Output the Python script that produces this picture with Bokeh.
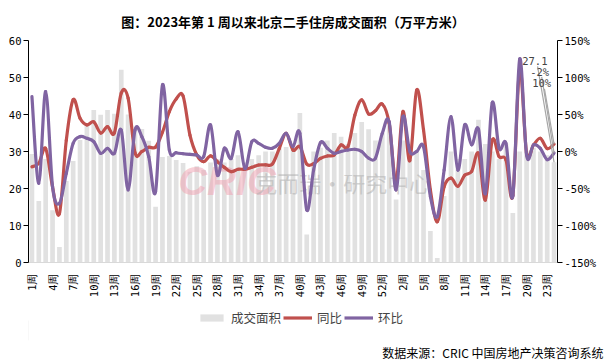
import numpy as np
from bokeh.plotting import figure
from bokeh.layouts import column
from bokeh.models import Range1d, LinearAxis, FixedTicker, Label, Legend, LegendItem, Title
from bokeh.core.properties import value
from bokeh.embed import file_html
from bokeh.resources import INLINE

# ---- data (2023 W1 .. W53, 2024 W1 .. W24) ----
week_numbers = list(range(1, 54)) + list(range(1, 25))
week_labels = [f"{w}周" for w in week_numbers]

area = [29.3, 16.6, 28.0, 14.1, 4.2, 22.0, 27.4, 33.1, 37.0, 41.2,
        39.9, 41.2, 40.2, 52.1, 40.0, 36.1, 36.1, 32.9, 15.1, 28.5,
        28.8, 27.7, 26.9, 24.5, 26.0, 25.0, 27.0, 28.0, 27.0, 28.0,
        29.0, 27.0, 28.0, 29.0, 30.0, 30.0, 31.0, 31.2, 31.0, 40.4,
        7.6, 30.0, 31.0, 33.0, 35.0, 34.0, 32.0, 35.0, 38.0, 36.0,
        33.0, 35.0, 37.0, 17.0, 33.0, 28.0, 30.0, 25.0, 8.5, 1.2,
        18.0, 30.0, 28.0, 28.0, 30.0, 38.6, 32.0, 30.0, 28.0, 32.0,
        13.4, 30.0, 30.0, 31.0, 30.0, 29.0, 27.1]

yoy = [-20.6, -16.0, 4.0, -48.0, -84.0, 15.0, 70.0, 45.0, 36.0, 40.0,
       25.0, 33.6, 25.0, 79.0, 72.0, -1.6, 0.0, 5.7, 6.0, 26.0,
       54.0, 71.0, 75.0, 22.0, -4.7, -13.8, -6.0, -13.8, -21.4, -27.3,
       -24.0, -24.0, -21.4, -18.3, -18.0, -17.0, 4.0, 24.6, 2.0, 6.5,
       -17.0, -16.5, -9.3, -6.0, -4.7, 8.8, 6.5, 49.0, 69.7, 50.7,
       55.0, 64.0, 38.0, -40.0, 54.0, -12.5, 83.0, 29.0, -52.0, -95.0,
       -47.6, -36.0, -47.0, -32.0, -27.0, -2.5, -65.6, 15.5, -7.0, -11.5,
       -59.0, 112.0, -2.5, 8.8, 17.8, 4.0, 10.0]

wow = [74.2, -43.0, 81.0, -47.6, -70.0, -29.5, 11.1, 20.1, 17.8, 13.3,
       -2.5, 4.3, -2.5, 29.0, -52.0, 29.0, 20.0, -7.0, -54.0, 90.0,
       2.0, -1.6, -3.0, -4.0, -4.7, -7.0, 36.0, -32.0, 4.3, -9.3,
       26.8, -23.0, 13.3, 11.0, 5.6, 4.3, 11.0, 24.6, 6.5, 24.6,
       -79.0, -25.0, 12.0, 4.3, -2.5, 0.0, 2.0, 3.0, 0.0, -9.0,
       -9.0, 24.6, 40.0, -52.0, 47.0, 0.0, 0.0, 6.5, -61.0, -88.0,
       -25.0, 47.0, -25.0, 36.0, 9.0, 30.0, -57.0, 66.0, 4.3, 11.0,
       -60.0, 125.0, -4.7, 9.0, 4.3, -11.0, -2.0]

left_ticks = [0, 10, 20, 30, 40, 50, 60]
right_ticks = [-150, -100, -50, 0, 50, 100, 150]

series_names = ["成交面积", "同比", "环比"]
title_text = "图：2023年第 1 周以来北京二手住房成交面积（万平方米）"
source_text = "数据来源：CRIC 中国房地产决策咨询系统"
bar_color = "#e1e1e1"
red = "#c0504d"
purple = "#8064a2"

n = len(area)
xs = list(range(n))

p = figure(frame_width=529, frame_height=222,
           min_border_left=28, min_border_top=40, min_border_bottom=38,
           min_border_right=49,
           x_range=Range1d(-0.5, n - 0.5), y_range=Range1d(0, 60),
           output_backend="svg", toolbar_location=None)
p.extra_y_ranges = {"pct": Range1d(-150, 150)}
p.grid.visible = False
p.outline_line_color = None
p.background_fill_color = "white"
p.border_fill_color = "white"

num_font = "DejaVu Sans Mono"

# title
p.title.text = title_text
p.title.align = "center"
p.title.offset = 13
p.title.standoff = 19
p.title.text_font = "Noto Sans CJK SC"
p.title.text_font_style = "bold"
p.title.text_font_size = "13px"
p.title.text_color = "black"

# left axis
ya = p.yaxis[0]
ya.ticker = FixedTicker(ticks=left_ticks)
ya.major_label_text_font = num_font
ya.major_label_text_font_size = "10.5px"
ya.major_label_text_color = "black"
ya.axis_line_color = "black"
ya.major_tick_line_color = "black"
ya.major_tick_out = 5
ya.major_tick_in = 0
ya.minor_tick_line_color = None
ya.major_label_standoff = 2

# right axis
ra = LinearAxis(y_range_name="pct", ticker=FixedTicker(ticks=right_ticks),
                major_label_overrides={t: f"{t}%" for t in right_ticks})
ra.major_label_text_font = num_font
ra.major_label_text_font_size = "10.5px"
ra.major_label_text_color = "black"
ra.axis_line_color = "black"
ra.major_tick_line_color = "black"
ra.major_tick_out = 5
ra.major_tick_in = 0
ra.minor_tick_line_color = None
ra.major_label_standoff = 2
p.add_layout(ra, "right")

# x axis
xa = p.xaxis[0]
tick_pos = list(range(0, n, 3))
xa.ticker = FixedTicker(ticks=tick_pos)
xa.major_label_overrides = {i: week_labels[i] for i in tick_pos}
xa.major_label_orientation = np.pi / 2
xa.major_label_text_font = num_font
xa.major_label_text_font_size = "10.5px"
xa.major_label_text_color = "black"
xa.axis_line_color = "#d9d9d9"
xa.major_tick_line_color = None
xa.minor_tick_line_color = None
xa.major_label_standoff = 5

# bars
bars = p.vbar(x=xs, top=area, width=0.68, fill_color=bar_color, line_color=None)

# watermark (between bars and lines)
p.text(x=[28.4], y=[22.0], text=["CRIC"], text_font=value("Liberation Sans"),
       text_font_style="bold italic", text_font_size=value("40px"), text_color="#f0a0b0",
       text_alpha=0.5, text_align="center", text_baseline="middle")
p.text(x=[45.3], y=[21.8], text=["克而瑞·研究中心"], text_font=value("Noto Sans CJK SC"),
       text_font_size=value("22px"), text_color="#b0b0b0", text_alpha=0.55,
       text_align="center", text_baseline="middle")


def smooth_curve(fig, vals, color):
    # Bezier segments between consecutive data points (Catmull-Rom tangents)
    v = list(vals)
    m = len(v)
    x0, y0, x1, y1, cx0, cy0, cx1, cy1 = [], [], [], [], [], [], [], []
    for i in range(m - 1):
        pm = v[i - 1] if i > 0 else v[i]
        xm = i - 1 if i > 0 else i
        pp = v[i + 2] if i + 2 < m else v[i + 1]
        xp = i + 2 if i + 2 < m else i + 1
        x0.append(i); y0.append(v[i]); x1.append(i + 1); y1.append(v[i + 1])
        cx0.append(i + (i + 1 - xm) / 6); cy0.append(v[i] + (v[i + 1] - pm) / 6)
        cx1.append(i + 1 - (xp - i) / 6); cy1.append(v[i + 1] - (pp - v[i]) / 6)
    return fig.bezier(x0=x0, y0=y0, x1=x1, y1=y1, cx0=cx0, cy0=cy0, cx1=cx1, cy1=cy1,
                      line_color=color, line_width=3.2, line_cap="round",
                      y_range_name="pct")


smooth_curve(p, yoy, red)
smooth_curve(p, wow, purple)

# end-point labels with leader lines
last = n - 1
p.segment(x0=[73.6], y0=[53.0], x1=[last], y1=[area[-1]], line_color="#a6a6a6", line_width=1.2)
p.segment(x0=[74.2, 74.6], y0=[100.8, 84.6], x1=[last, last], y1=[wow[-1], yoy[-1]],
          line_color="#a6a6a6", line_width=1.2, y_range_name="pct")
p.add_layout(Label(x=73.2, y=54.5, text=f"{area[-1]:.1f}", text_font=num_font,
                   text_font_size="10.5px", text_align="center", text_baseline="middle"))
p.add_layout(Label(x=73.9, y=108, y_range_name="pct", text=f"{wow[-1]:.0f}%", text_font=num_font,
                   text_font_size="10.5px", text_align="center", text_baseline="middle"))
p.add_layout(Label(x=74.2, y=92, y_range_name="pct", text=f"{yoy[-1]:.0f}%", text_font=num_font,
                   text_font_size="10.5px", text_align="center", text_baseline="middle"))

# ---- footer figure: legend + source ----
q = figure(width=606, height=62, min_border=0, x_range=Range1d(0, 1), y_range=Range1d(0, 1),
           x_axis_type=None, y_axis_type=None, output_backend="svg", toolbar_location=None)
q.grid.visible = False
q.outline_line_color = None
q.background_fill_color = "white"
q.border_fill_color = "white"

# legend proxies (kept outside the visible range, only used for the legend swatches)
lb = q.vbar(x=[-5], top=[0.5], width=0.5, fill_color=bar_color, line_color=None)
lr = q.line(x=[-6, -5], y=[0.5, 0.5], line_color=red, line_width=3.2)
lp = q.line(x=[-6, -5], y=[0.5, 0.5], line_color=purple, line_width=3.2)
legend = Legend(items=[LegendItem(label=series_names[0], renderers=[lb]),
                       LegendItem(label=series_names[1], renderers=[lr]),
                       LegendItem(label=series_names[2], renderers=[lp])],
                location=(169, 13), orientation="horizontal",
                label_text_font="Noto Sans CJK SC", label_text_font_size="12.5px",
                glyph_width=29, glyph_height=9, label_standoff=5, spacing=2,
                padding=0, margin=0, border_line_color=None,
                background_fill_alpha=0, label_height=14)
q.add_layout(legend, "center")

src = Title(text=source_text, align="right", offset=-46, standoff=3,
            text_font="Noto Sans CJK SC", text_font_size="12px",
            text_font_style="normal", text_color="black")
q.add_layout(src, "below")

layout = column(p, q, spacing=0)
open("out.html", "w").write(file_html(layout, INLINE))
